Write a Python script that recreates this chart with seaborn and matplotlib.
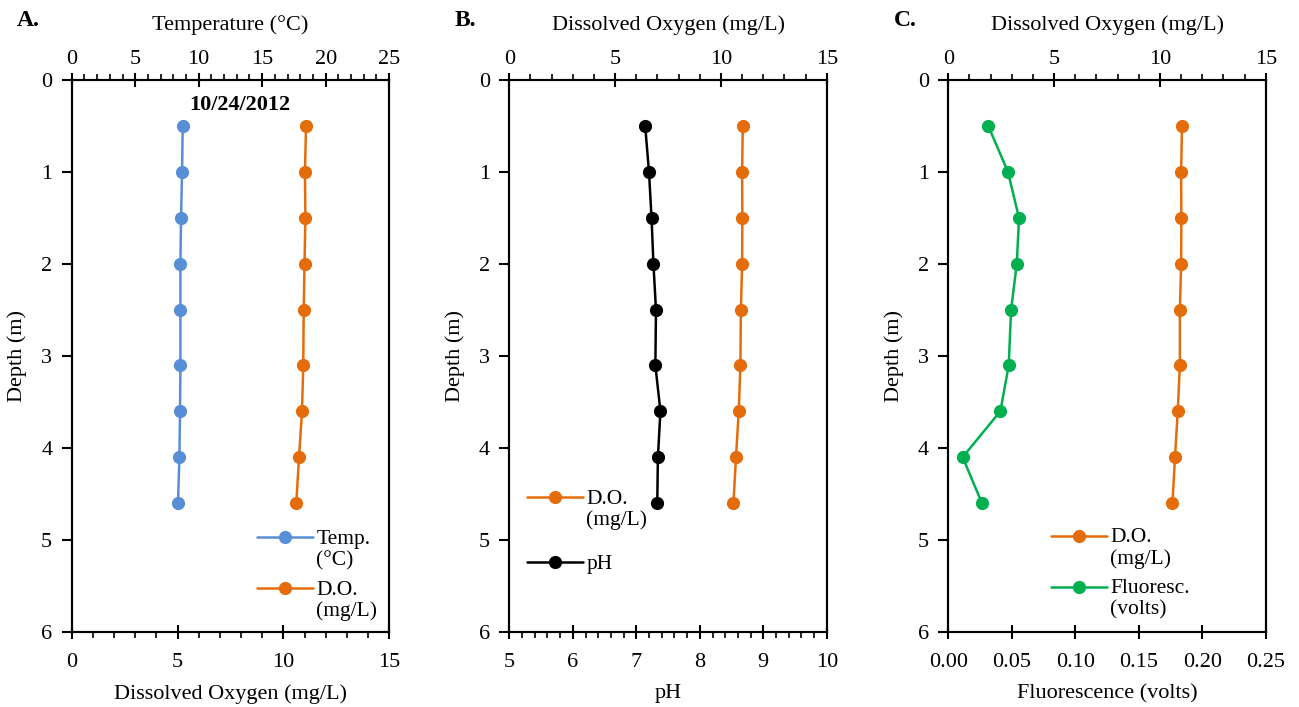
import numpy as np
import pandas as pd
import matplotlib
matplotlib.use("Agg")
import matplotlib.pyplot as plt
import seaborn as sns
from matplotlib.ticker import MultipleLocator, NullLocator, FormatStrFormatter

# ---------------- data ----------------
depth = [0.5, 1.0, 1.5, 2.0, 2.5, 3.1, 3.6, 4.1, 4.6]
temp_a = [8.74, 8.69, 8.61, 8.56, 8.56, 8.56, 8.53, 8.48, 8.37]
do_a = [11.07, 11.02, 11.04, 11.00, 10.96, 10.94, 10.88, 10.74, 10.61]
ph_b = [7.14, 7.20, 7.24, 7.27, 7.31, 7.30, 7.38, 7.34, 7.33]
do_b = [11.03, 11.00, 11.01, 11.00, 10.94, 10.92, 10.84, 10.71, 10.59]
fluor_c = [0.0315, 0.0470, 0.0557, 0.0539, 0.0494, 0.0476, 0.0410, 0.0113, 0.0265]
do_c = [11.04, 11.00, 11.01, 11.00, 10.94, 10.94, 10.84, 10.71, 10.59]
date_label = "10/24/2012"

BLUE = "#588ED5"
ORANGE = "#E46C0A"
GREEN = "#00B050"
BLACK = "#000000"

sns.set_theme(style="ticks")
plt.rcParams["font.family"] = ["Liberation Serif", "DejaVu Serif"]
FS = 16
plt.rcParams["axes.linewidth"] = 1.5
plt.rcParams["axes.edgecolor"] = "black"
plt.rcParams["xtick.color"] = "black"
plt.rcParams["ytick.color"] = "black"
plt.rcParams["text.color"] = "black"
plt.rcParams["axes.labelcolor"] = "black"

fig = plt.figure(figsize=(12.99, 7.07), dpi=100)

W, H = 1299.0, 707.0
bottom = (H - 632) / H
height = (632 - 80) / H
lefts = [71.7, 509.3, 948.3]
width = 317.5 / W


def style_x(axis_ax, major, minor, pad):
    axis_ax.xaxis.set_major_locator(MultipleLocator(major))
    if minor:
        axis_ax.xaxis.set_minor_locator(MultipleLocator(minor))
    else:
        axis_ax.xaxis.set_minor_locator(NullLocator())
    axis_ax.tick_params(axis="x", which="major", direction="inout", length=10,
                        width=1.5, labelsize=FS, pad=pad)
    axis_ax.tick_params(axis="x", which="minor", direction="out", length=4,
                        width=1.2)


def panel(i, bot_vals, bot_lab, bot_col, bot_lim, bot_major, bot_minor, bot_fmt,
          top_vals, top_lab, top_col, top_lim, top_major, top_minor,
          bot_axis_label, top_axis_label, legend_anchor, lspacing):
    ax = fig.add_axes([lefts[i] / W, bottom, width, height])
    ax2 = ax.twiny()
    sns.lineplot(x=bot_vals, y=depth, ax=ax, color=bot_col, marker="o",
                 markersize=9.5, markeredgewidth=0, linewidth=1.8, sort=False,
                 orient="y", label=bot_lab, legend=False)
    sns.lineplot(x=top_vals, y=depth, ax=ax2, color=top_col, marker="o",
                 markersize=9.5, markeredgewidth=0, linewidth=1.8, sort=False,
                 orient="y", label=top_lab, legend=False)
    ax.set_ylim(6, 0)
    ax.set_xlim(*bot_lim)
    ax2.set_xlim(*top_lim)
    ax.yaxis.set_major_locator(MultipleLocator(1))
    ax.tick_params(axis="y", direction="out", length=7, width=1.5,
                   labelsize=FS, pad=7, right=False)
    ax2.tick_params(axis="y", left=False, right=False, labelleft=False,
                    labelright=False)
    style_x(ax, bot_major, bot_minor, 10)
    style_x(ax2, top_major, top_minor, 3)
    if bot_fmt:
        ax.xaxis.set_major_formatter(bot_fmt)
    ax.set_xlabel(bot_axis_label, fontsize=FS)
    ax.xaxis.set_label_coords(0.5, -0.095)
    ax2.set_xlabel(top_axis_label, fontsize=FS)
    ax2.xaxis.set_label_coords(0.5, 1.09)
    ax.set_ylabel("Depth (m)", fontsize=FS)
    ax.yaxis.set_label_coords(-0.14, 0.5)
    ax.grid(False)
    ax2.grid(False)
    for a in (ax, ax2):
        for s in a.spines.values():
            s.set_linewidth(1.5)
            s.set_color("black")
    hh = [ax2.get_lines()[0], ax.get_lines()[0]]
    ll = [top_lab, bot_lab]
    leg = ax2.legend(hh, ll, loc="upper left", bbox_to_anchor=legend_anchor,
                     frameon=False, fontsize=FS - 0.5, handlelength=2.6,
                     handletextpad=0.15, labelspacing=lspacing, borderpad=0,
                     borderaxespad=0)
    for t in leg.get_texts():
        t.set_linespacing(1.12)
    for col in leg._legend_handle_box.get_children():
        for hp in col.get_children():
            hp.align = "top"
    return ax, ax2


axA, axA2 = panel(0, do_a, "D.O.\n(mg/L)", ORANGE, (0, 15), 5, 1, None,
                  temp_a, "Temp.\n(°C)", BLUE, (0, 25), 5, 1,
                  "Dissolved Oxygen (mg/L)", "Temperature (°C)",
                  (0.584, 0.185), 0.5)
axA.text(0.53, 0.955, date_label, transform=axA.transAxes, fontsize=FS,
         fontweight="bold", ha="center", va="center")

axB, axB2 = panel(1, ph_b, "pH", BLACK, (5, 10), 1, 0.2, None,
                  do_b, "D.O.\n(mg/L)", ORANGE, (0, 15), 5, 1,
                  "pH", "Dissolved Oxygen (mg/L)",
                  (0.056, 0.258), 1.15)

axC, axC2 = panel(2, fluor_c, "Fluoresc.\n(volts)", GREEN, (0, 0.25), 0.05, None,
                  FormatStrFormatter("%.2f"),
                  do_c, "D.O.\n(mg/L)", ORANGE, (0, 15), 5, 1,
                  "Fluorescence (volts)", "Dissolved Oxygen (mg/L)",
                  (0.323, 0.188), 0.5)

for lab, x in zip(["A.", "B.", "C."], [28, 465, 905]):
    fig.text(x / W, 1 - 21 / H, lab, fontsize=FS + 1, fontweight="bold",
             ha="center", va="center")

fig.savefig("out.png", dpi=100)
